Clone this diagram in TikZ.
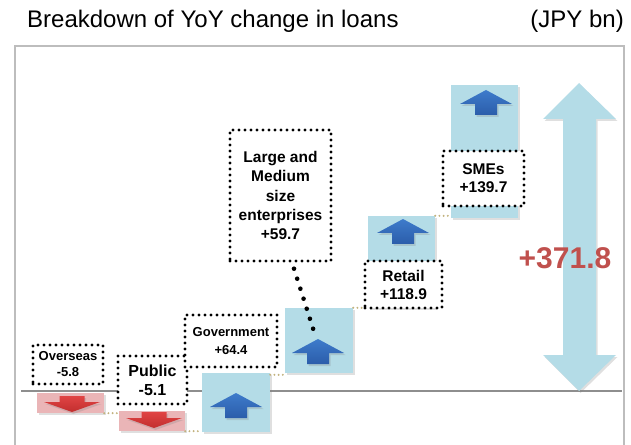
\documentclass[tikz,border=0pt]{standalone}
\usepackage{fontspec}
\setmainfont{Liberation Sans}
\usetikzlibrary{shadows}

\definecolor{barblue}{HTML}{B4DCE7}
\definecolor{barred}{HTML}{EAB5B7}
\definecolor{arrblue}{HTML}{3E7BCB}
\definecolor{arrblueD}{HTML}{2B5DAA}
\definecolor{arrred}{HTML}{E04444}
\definecolor{arrredD}{HTML}{C22E2E}
\definecolor{totred}{HTML}{C0504D}
\definecolor{steptan}{HTML}{C2B27E}
\definecolor{framegray}{HTML}{BDBDBD}
\definecolor{axisgray}{HTML}{8E8E8E}

% bold label text: size and line spacing in bp
\newcommand\lblfont[2]{\fontsize{#1bp}{#2bp}\selectfont\bfseries}

\begin{document}
\begin{tikzpicture}[x=1bp,y=-1bp,
  softshadow/.style={drop shadow={opacity=0.25,shadow xshift=1.5bp,shadow yshift=-2bp}},
  bar/.style={draw=none,inner sep=0,softshadow},
  upbar/.style={bar,fill=barblue},
  dnbar/.style={bar,fill=barred},
  lblbox/.style={draw=black,fill=white,line width=3.4bp,line cap=round,
    dash pattern=on 0bp off 6bp,inner sep=0,align=center},
  stepline/.style={draw=steptan,line width=2.2bp,line cap=round,
    dash pattern=on 0bp off 4.2bp},
  leader/.style={draw=black,line width=4.6bp,line cap=round,
    dash pattern=on 0bp off 10.5bp},
  uparr/.pic={
    \shade[top color=arrblue,bottom color=arrblueD,softshadow]
      (0,-14) -- (26,0) -- (11,0) -- (11,11) -- (-11,11) -- (-11,0) -- (-26,0) -- cycle;},
  dnarr/.pic={
    \shade[top color=arrred,bottom color=arrredD,softshadow]
      (0,10) -- (28,0) -- (12.5,0) -- (12.5,-6) -- (-12.5,-6) -- (-12.5,0) -- (-28,0) -- cycle;},
]
\useasboundingbox (0,0) rectangle (631,445);

% title and unit
\node[anchor=base west,inner sep=0,font=\fontsize{24bp}{27bp}\selectfont] (title) at (27,27.5) {Breakdown of YoY change in loans};
\node[anchor=base east,inner sep=0,font=\fontsize{24bp}{27bp}\selectfont] (unit) at (624,27.5) {(JPY bn)};

% chart frame, open at the bottom
\draw[framegray,line width=1.5bp] (15,460) -- (15,46) -- (624,46) -- (624,460);

% zero line
\coordinate (zl) at (21,391);
\coordinate (zr) at (622,391);
\draw[axisgray,line width=2bp] (zl) -- (zr);

% total change: double arrow
\path[fill=barblue,softshadow]
  (579,83) -- (616,119) -- (596,119) -- (596,355) -- (616,355) -- (579,391)
  -- (543,355) -- (563,355) -- (563,119) -- (543,119) -- cycle;
\node[font=\fontsize{30bp}{32bp}\selectfont\bfseries,text=totred,inner sep=0] (total) at (565,258) {+371.8};

% waterfall bars
\node[dnbar,minimum width=67bp,minimum height=20bp] (ovbar) at (70.5,403) {};
\node[dnbar,minimum width=66bp,minimum height=20bp] (pubbar) at (152,421) {};
\node[upbar,minimum width=68bp,minimum height=59bp] (gbar) at (236,402.5) {};
\node[upbar,minimum width=68bp,minimum height=65bp] (lmbar) at (319,340.5) {};
\node[upbar,minimum width=67bp,minimum height=92bp] (rtbar) at (401.5,262) {};
\node[upbar,minimum width=67bp,minimum height=133bp] (smbar) at (484.5,151.5) {};

% arrows inside the bars
\pic at (72,402) {dnarr};
\pic at (154,418) {dnarr};
\pic at (236,407) {uparr};
\pic at (318,353) {uparr};
\pic at (403,233) {uparr};
\pic at (486,104) {uparr};

% step connectors between bars
\draw[stepline] (ovbar.south east) -- (ovbar.south east -| pubbar.west);
\draw[stepline] (pubbar.south east) -- (pubbar.south east -| gbar.west);
\draw[stepline] ([yshift=-2bp]gbar.north east) -- ([yshift=-2bp]gbar.north east -| lmbar.west);
\draw[stepline] (lmbar.north east) -- (lmbar.north east -| rtbar.west);
\draw[stepline] (rtbar.north east) -- (rtbar.north east -| smbar.west);

% labels
\node[lblbox,minimum width=70bp,minimum height=39bp,font=\lblfont{13}{16}] (ov) at (68,364.5) {Overseas\\-5.8};
\node[lblbox,minimum width=69bp,minimum height=48bp,font=\lblfont{16}{19}] (pub) at (152.5,380) {Public\\-5.1};
\node[lblbox,minimum width=92bp,minimum height=52bp,font=\lblfont{13}{18}] (gov) at (231,341) {Government\\+64.4};
\node[lblbox,minimum width=101bp,minimum height=131bp,font=\lblfont{15.5}{19.3}] (lm) at (280.5,195.5) {Large and\\Medium\\size\\enterprises\\+59.7};
\node[lblbox,minimum width=77bp,minimum height=47bp,font=\lblfont{15.5}{18}] (rt) at (403.5,284.5) {Retail\\+118.9};
\node[lblbox,minimum width=81bp,minimum height=55bp,font=\lblfont{15.5}{18}] (sm) at (483.5,178.5) {SMEs\\+139.7};

% leader from the large/medium label to its bar
\coordinate (lmfoot) at ([shift={(13.5,6)}]lm.south);
\coordinate (lmtip) at (313.5,330);
\draw[leader] (lmfoot) -- (lmtip);
\end{tikzpicture}
\end{document}
